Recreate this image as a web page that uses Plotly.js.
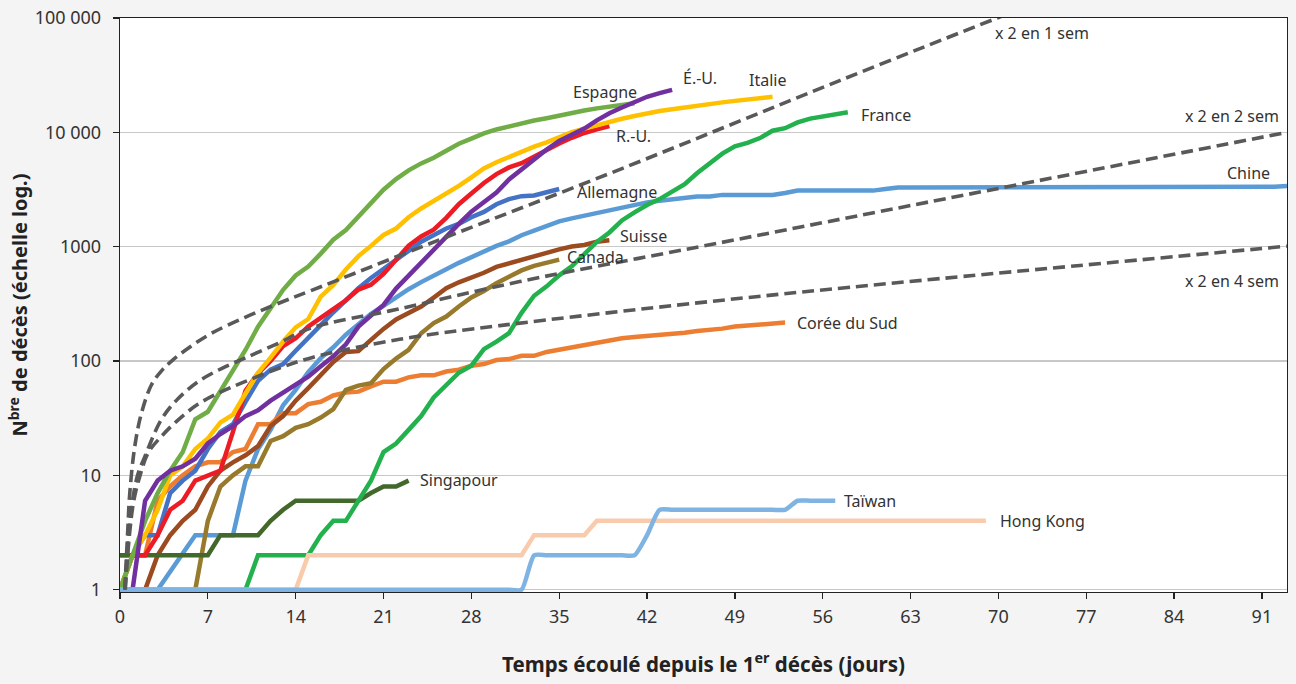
<!DOCTYPE html>
<html>
<head>
<meta charset="utf-8">
<script src="https://cdn.plot.ly/plotly-3.0.1.min.js"></script>
<style>html,body{margin:0;padding:0;background:#f4f4f4;}#chart{width:1296px;height:684px;}</style>
</head>
<body>
<div id="chart"></div>
<script>
// ---- Data: cumulative deaths, one value per day since first death ----
const chine = [1,1,1,1,null,null,3,3,3,3,9,17,25,41,56,80,106,132,170,213,259,304,361,425,490,563,636,722,811,908,1016,1113,1259,1380,1523,1665,1770,1868,2004,2118,2236,2345,2442,2520,2600,2700,2742,2742,2838,2838,2838,2838,2838,2950,3093,3093,3093,3093,3093,3093,3093,3200,3287,3287,3287,3287,3287,3287,3287,3287,3287,3287,3287,3287,3287,3287,3287,3287,3287,3287,3287,3287,3287,3287,3287,3287,3287,3287,3287,3287,3287,3287,3340,3392];
const coree = [1,2,2,6,8,10,12,13,13,16,17,28,28,35,35,42,44,50,53,54,60,66,66,72,75,75,81,84,91,94,102,104,111,111,120,126,131,139,144,152,158,162,165,169,174,177,183,186,192,200,204,208,214,217];
const singapour = [2,2,2,2,2,2,2,2,3,3,3,3,4,5,6,6,6,6,6,6,7,8,8,9];
const canada = [1,1,1,1,1,1,1,4,8,10,12,12,20,22,26,28,32,38,56,61,64,85,105,125,175,215,245,300,360,410,480,545,620,680,730,770];
const suisse = [1,1,1,2,3,4,5,8,11,13,15,18,27,33,45,58,75,98,120,122,153,191,231,264,300,359,433,488,536,591,666,715,765,821,895,948,1002,1036,1106,1138];
const allemagne = [2,2,3,3,7,9,11,17,24,28,44,67,84,94,123,157,206,267,342,433,533,645,775,920,1107,1275,1444,1584,1810,2016,2349,2607,2767,2805,3022,3194];
const royaumeUni = [1,2,2,3,5,6,9,10,11,24,55,78,100,135,158,200,240,285,340,422,465,578,759,1019,1228,1408,1789,2352,2921,3605,4313,4934,5373,6159,7097,7978,8958,9875,10612,11329];
const italie = [1,2,3,5,10,12,17,21,29,34,52,79,107,148,197,233,366,463,631,827,1016,1266,1441,1809,2158,2503,2978,3405,4032,4825,5476,6077,6820,7503,8165,9134,10023,10779,11591,12428,13155,13915,14681,15362,15887,16523,17127,17669,18279,18849,19468,19899,20465];
const espagne = [1,2,4,7,11,16,31,36,55,85,125,200,290,420,560,670,870,1150,1400,1850,2450,3150,3900,4650,5350,6000,6900,7950,8800,9800,10600,11300,12000,12700,13300,14100,14900,15500,16200,16900,17500,18000];
const etatsUnis = [1,1,6,9,11,12,14,19,23,27,33,37,45,53,62,73,90,110,140,200,250,310,430,560,720,950,1209,1581,2026,2467,2978,3873,4757,5926,7087,8407,9619,10783,12722,14695,16478,18586,20463,22020,23529];
const france = [1,1,1,1,1,1,1,1,1,1,1,2,2,2,2,2,3,4,4,6,9,16,19,25,33,48,61,79,91,127,148,175,264,372,450,562,674,860,1100,1331,1696,1995,2314,2606,3024,3523,4403,5387,6507,7560,8078,8911,10328,10869,12210,13197,13832,14393,14967];
const hongKong = [1,1,1,1,1,1,1,1,1,1,1,1,1,1,1,2,2,2,2,2,2,2,2,2,2,2,2,2,2,2,2,2,2,3,3,3,3,3,4,4,4,4,4,4,4,4,4,4,4,4,4,4,4,4,4,4,4,4,4,4,4,4,4,4,4,4,4,4,4,4];
const taiwan = [1,1,1,1,1,1,1,1,1,1,1,1,1,1,1,1,1,1,1,1,1,1,1,1,1,1,1,1,1,1,1,1,1,2,2,2,2,2,2,2,2,2,3,5,5,5,5,5,5,5,5,5,5,5,6,6,6,6];

// Reference doubling curves
const dbl1Days = [0.38,0.6,0.78,1.18,1.71,2.51,3.31,4.11,5.46,7.3,9.93,12.65,15.27,25.47,40,57.4,70,73];
const dbl1Vals = [1,3,7,18,35,62,82,100,130,175,240,320,415,1150,4820,28500,101000,136000];
const dbl2Days = [0.4,0.7,1.0,1.4,1.98,3.31,4.64,6.23,8.09,9.95,12.61,15.27,22,31.85,46.2,60.55,93];
const dbl2Vals = [1,3,6,10,14.6,31,47,66,86,106,143,195,282,495,1000,2030,10000];
const dbl4Days = [0.42,0.75,1.1,1.6,2.25,3.31,4.64,6.23,8.09,9.95,12.61,15.27,22.28,30.26,46.2,58.2,93];
const dbl4Vals = [1,3,6,10,15.8,22,30.6,42,54,66,86,107,155,204,324,442,1010];

const xTicks = [0,7,14,21,28,35,42,49,56,63,70,77,84,91];
const yTicks = [1,10,100,1000,10000,100000];
const yTickText = ['1','10','100','1000','10 000','100 000'];

const series = [
  {name:'Chine', v:chine, c:'#5B9BD5'},
  {name:'Corée du Sud', v:coree, c:'#ED7D31'},
  {name:'Canada', v:canada, c:'#977A2C'},
  {name:'Suisse', v:suisse, c:'#9C4A1F'},
  {name:'Allemagne', v:allemagne, c:'#4472C4'},
  {name:'Singapour', v:singapour, c:'#43682B'},
  {name:'R.-U.', v:royaumeUni, c:'#ED1C24'},
  {name:'Italie', v:italie, c:'#FFC000'},
  {name:'Espagne', v:espagne, c:'#70AD47'},
  {name:'É.-U.', v:etatsUnis, c:'#7030A0'},
  {name:'France', v:france, c:'#22B14C'},
  {name:'Hong Kong', v:hongKong, c:'#F8CBAD'},
  {name:'Taïwan', v:taiwan, c:'#7FB3E2', spline:true}
];

const traces = series.map(s => ({
  type:'scatter', mode:'lines', name:s.name,
  x: s.v.map((_, i) => i), y: s.v,
  connectgaps:true,
  line:{color:s.c, width:4.5, shape: s.spline ? 'spline' : 'linear', smoothing:0.6},
  hoverinfo:'skip'
}));

[[dbl1Days,dbl1Vals],[dbl2Days,dbl2Vals],[dbl4Days,dbl4Vals]].forEach(([d,v]) => {
  traces.push({type:'scatter', mode:'lines', x:d, y:v, line:{color:'#595959', width:3.6, dash:'12px,6px', shape:'spline', smoothing:1}, hoverinfo:'skip'});
});

// label positions in paper coordinates
const P = (X, Y) => ({x:(X-120)/1167, y:(592-Y)/574});
const labels = [
  ['x 2 en 1 sem', 993, 33, 'left'],
  ['x 2 en 2 sem', 1281, 116, 'right'],
  ['Chine', 1272, 173, 'right'],
  ['x 2 en 4 sem', 1281, 281, 'right'],
  ['Italie', 747, 80, 'left'],
  ['É.-U.', 681, 78, 'left'],
  ['Espagne', 571, 92, 'left'],
  ['R.-U.', 614, 136, 'left'],
  ['France', 859, 115, 'left'],
  ['Allemagne', 575, 192, 'left'],
  ['Suisse', 618, 236, 'left'],
  ['Canada', 565, 257, 'left'],
  ['Corée du Sud', 795, 323, 'left'],
  ['Singapour', 418, 480, 'left'],
  ['Taïwan', 842, 501, 'left'],
  ['Hong Kong', 998, 521, 'left']
];
const annotations = labels.map(([t, X, Y, a]) => {
  const p = P(X, Y);
  return {text:t, xref:'paper', yref:'paper', x:p.x, y:p.y, xanchor:a, yanchor:'middle', showarrow:false,
          font:{family:'"Noto Sans", sans-serif', size:16, color:'#333'}};
});

const layout = {
  width:1296, height:684,
  paper_bgcolor:'#f4f4f4', plot_bgcolor:'#ffffff',
  margin:{l:120, r:9, t:18, b:92, pad:0},
  showlegend:false,
  font:{family:'"Noto Sans", sans-serif', color:'#333', size:16},
  xaxis:{
    range:[0,93], tickvals:xTicks, ticktext:xTicks.map(String),
    ticks:'outside', ticklen:6, tickcolor:'#222', tickwidth:1.3,
    showline:true, linecolor:'#222', linewidth:1.3, mirror:true,
    showgrid:false, zeroline:false, ticklabelstandoff:2,
    tickfont:{size:18, color:'#333'},
    title:{text:'Temps écoulé depuis le 1<sup>er</sup> décès (jours)', standoff:30,
           font:{size:20.5, color:'#222', weight:'bold'}}
  },
  yaxis:{
    type:'log', range:[-0.02,5], tickvals:yTicks, ticktext:yTickText,
    ticks:'outside', ticklen:6, tickcolor:'#222', tickwidth:1.3,
    showline:true, linecolor:'#222', linewidth:1.3, mirror:true,
    showgrid:true, gridcolor:'#c8c8c8', gridwidth:1.5, zeroline:false,
    ticklabelstandoff:8,
    tickfont:{size:18, color:'#333'},
    title:{text:'N<sup>bre</sup> de décès (échelle log.)', standoff:1,
           font:{size:20, color:'#222', weight:'bold'}}
  },
  annotations: annotations
};

Plotly.newPlot('chart', traces, layout, {staticPlot:true, displayModeBar:false});
</script>
</body>
</html>
